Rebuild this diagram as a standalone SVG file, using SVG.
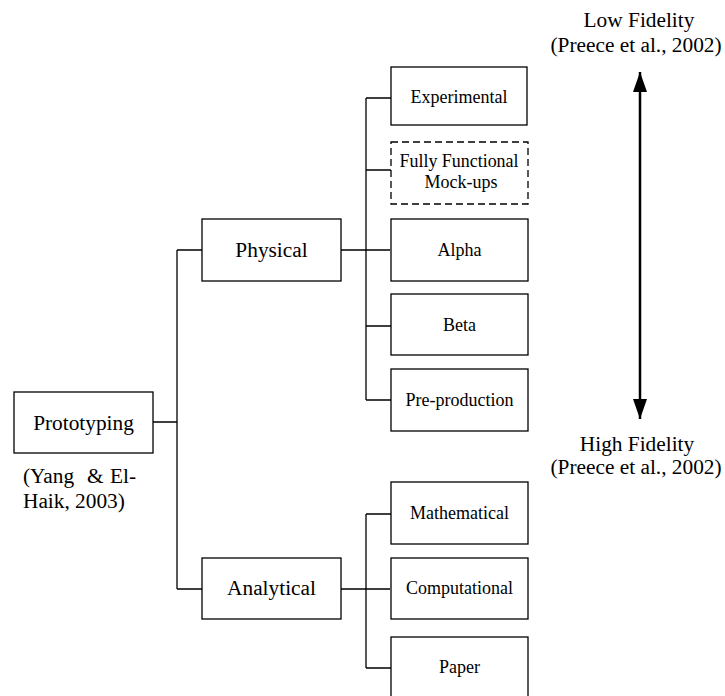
<svg xmlns="http://www.w3.org/2000/svg" width="725" height="696" viewBox="0 0 725 696">
  <style>
    .box { fill: #fff; stroke: #000; stroke-width: 1.3; }
    .dash { stroke-dasharray: 7 4; }
    .wire { fill: none; stroke: #000; stroke-width: 1.3; }
    .big { font-family: "Liberation Serif", "Times New Roman", serif; font-size: 21.33px; fill: #000; }
    .small { font-family: "Liberation Serif", "Times New Roman", serif; font-size: 18px; fill: #000; text-anchor: middle; }
  </style>
  <defs>
    <marker id="head" markerUnits="userSpaceOnUse" markerWidth="20" markerHeight="14" viewBox="0 0 20 14" refX="20" refY="7" orient="auto-start-reverse">
      <path d="M0,0 L20,7 L0,14 Z" fill="#000"/>
    </marker>
  </defs>
  <rect width="725" height="696" fill="#fff"/>

  <!-- tree connectors -->
  <g id="connectors" class="wire">
    <path d="M153,422 H177 M177,250 V589 M177,250 H202 M177,589 H202"/>
    <path d="M341,250 H390 M366,98 V400 M366,98 H391 M366,170 H391 M366,326 H391 M366,400 H391"/>
    <path d="M341,589 H390 M366,514 V668 M366,514 H391 M366,668 H391"/>
  </g>

  <!-- fidelity scale -->
  <g id="fidelity">
    <line x1="640" y1="72" x2="640" y2="419" stroke="#000" stroke-width="2.5" marker-start="url(#head)" marker-end="url(#head)"/>
    <text class="big" x="639" y="27" text-anchor="middle">Low Fidelity</text>
    <text class="big" x="636" y="52" text-anchor="middle">(Preece et al., 2002)</text>
    <text class="big" x="637" y="451" text-anchor="middle">High Fidelity</text>
    <text class="big" x="636" y="474" text-anchor="middle">(Preece et al., 2002)</text>
  </g>

  <g id="prototyping">
    <rect class="box" x="14" y="392" width="139" height="61"/>
    <text class="big" x="83.5" y="430" text-anchor="middle">Prototyping</text>
    <text class="big" y="483"><tspan x="23">(Yang</tspan><tspan x="87">&amp;</tspan><tspan x="110">El-</tspan></text>
    <text class="big" x="23" y="508">Haik, 2003)</text>
  </g>

  <g id="physical">
    <rect class="box" x="202" y="219" width="139" height="62"/>
    <text class="big" x="271.5" y="257" text-anchor="middle">Physical</text>
  </g>

  <g id="analytical">
    <rect class="box" x="202" y="558" width="139" height="61"/>
    <text class="big" x="271.5" y="595" text-anchor="middle">Analytical</text>
  </g>

  <g id="experimental">
    <rect class="box" x="391" y="67" width="136" height="58"/>
    <text class="small" x="459" y="103">Experimental</text>
  </g>

  <g id="mockups">
    <rect class="box dash" x="391" y="142" width="137" height="62"/>
    <text class="small" x="459" y="167" textLength="119" lengthAdjust="spacingAndGlyphs">Fully Functional</text>
    <text class="small" x="461" y="188">Mock-ups</text>
  </g>

  <g id="alpha">
    <rect class="box" x="391" y="219" width="137" height="62"/>
    <text class="small" x="459.5" y="256">Alpha</text>
  </g>

  <g id="beta">
    <rect class="box" x="391" y="294" width="137" height="61"/>
    <text class="small" x="459.5" y="331">Beta</text>
  </g>

  <g id="preproduction">
    <rect class="box" x="391" y="369" width="137" height="62"/>
    <text class="small" x="459.5" y="406">Pre-production</text>
  </g>

  <g id="mathematical">
    <rect class="box" x="391" y="482" width="137" height="62"/>
    <text class="small" x="459.5" y="519">Mathematical</text>
  </g>

  <g id="computational">
    <rect class="box" x="391" y="558" width="137" height="61"/>
    <text class="small" x="459.5" y="594">Computational</text>
  </g>

  <g id="paper">
    <rect class="box" x="391" y="637" width="137" height="62"/>
    <text class="small" x="459.5" y="673">Paper</text>
  </g>
</svg>
